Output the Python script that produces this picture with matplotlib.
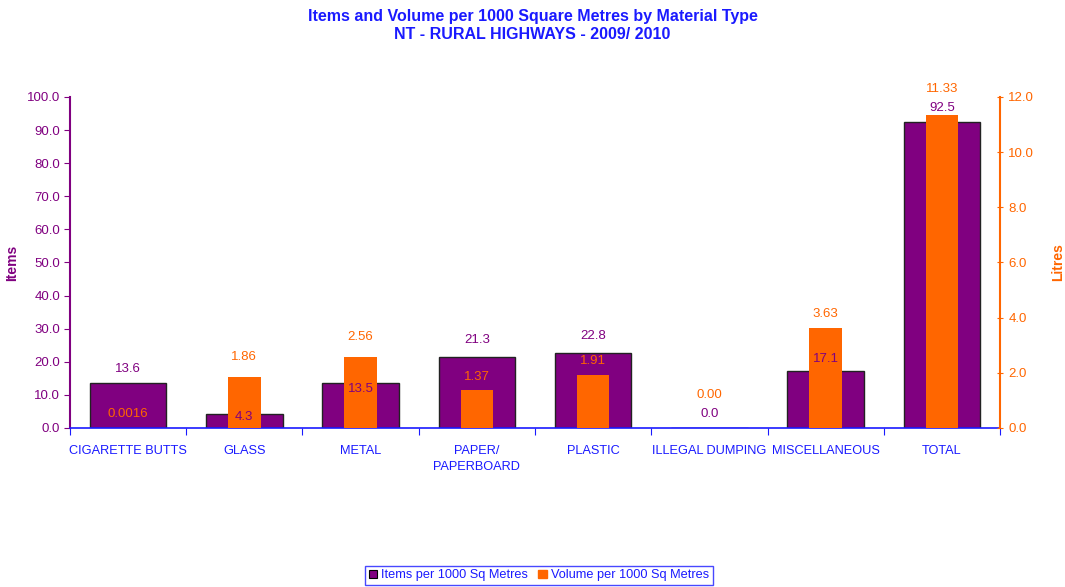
import numpy as np
import matplotlib
matplotlib.use("Agg")
from matplotlib import pyplot as plt
from matplotlib.patches import Patch

plt.rcParams['font.family'] = ['Liberation Sans', 'DejaVu Sans']

categories = ["CIGARETTE BUTTS", "GLASS", "METAL", "PAPER/\nPAPERBOARD", "PLASTIC",
              "ILLEGAL DUMPING", "MISCELLANEOUS", "TOTAL"]
items = [13.6, 4.3, 13.5, 21.3, 22.8, 0.0, 17.1, 92.5]
volume = [0.0016, 1.86, 2.56, 1.37, 1.91, 0.00, 3.63, 11.33]
items_labels = ["13.6", "4.3", "13.5", "21.3", "22.8", "0.0", "17.1", "92.5"]
volume_labels = ["0.0016", "1.86", "2.56", "1.37", "1.91", "0.00", "3.63", "11.33"]

# label offsets in pixels (as placed in the original)
items_off = [14, -3, -6, 17, 17, 14, 12, 14]
volume_off = [14, 20, 20, 13, 14, 33, 14, 26]

PURPLE = "#800080"
ORANGE = "#FF6600"
BLUE = "#1a1aff"

fig = plt.figure(figsize=(10.65, 5.87), dpi=100)
ax = fig.add_axes([0.0657, 0.2709, 0.8733, 0.5639])
ax2 = ax.twinx()

x = np.arange(len(categories))
ax.bar(x, items, width=0.66, color=PURPLE, edgecolor="#222222", linewidth=1.0, zorder=2)
ax2.bar(x, volume, width=0.28, color=ORANGE, linewidth=0, zorder=3)

ax.set_ylim(0, 100)
ax2.set_ylim(0, 12)
ax.set_xlim(-0.5, len(categories) - 0.5)

ax.set_yticks(np.arange(0, 101, 10))
ax.set_yticklabels(["%.1f" % v for v in np.arange(0, 101, 10)])
ax2.set_yticks(np.arange(0, 13, 2))
ax2.set_yticklabels(["%.1f" % v for v in np.arange(0, 13, 2)])

ax.set_xticks(np.arange(-0.5, len(categories), 1.0))
ax.set_xticklabels([])
ax.set_xticks(x, minor=True)
ax.set_xticklabels(categories, minor=True, linespacing=1.5)
ax.tick_params(axis='x', which='minor', length=0, pad=12, colors=BLUE, labelsize=9.2)
ax.tick_params(axis='x', which='major', length=5, color=BLUE, direction='out')
ax.tick_params(axis='y', colors=PURPLE, labelsize=9.5, length=4, direction='out', pad=3)
ax2.tick_params(axis='y', colors=ORANGE, labelsize=9.5, length=4, direction='inout', pad=4)

ax.spines['top'].set_visible(False)
ax2.spines['top'].set_visible(False)
ax2.spines['left'].set_visible(False)
ax2.spines['bottom'].set_visible(False)
ax.spines['right'].set_visible(False)
ax.spines['left'].set_color(PURPLE)
ax.spines['left'].set_linewidth(1.5)
ax2.spines['right'].set_color(ORANGE)
ax2.spines['right'].set_linewidth(1.5)
ax.spines['bottom'].set_color(BLUE)
ax.spines['bottom'].set_linewidth(1.2)

ax.set_ylabel("Items", color=PURPLE, fontweight='bold', fontsize=10, labelpad=6)
ax2.set_ylabel("Litres", color=ORANGE, fontweight='bold', fontsize=10, labelpad=12)

# all value labels on the top axes so they sit over both bar sets
for i in range(len(categories)):
    ax2.annotate(items_labels[i], (x[i], items[i]), xycoords=ax.transData,
                 xytext=(0, items_off[i]), textcoords='offset pixels',
                 ha='center', va='center', color=PURPLE, fontsize=9.5, zorder=5)
    ax2.annotate(volume_labels[i], (x[i], volume[i]), xytext=(0, volume_off[i]),
                 textcoords='offset pixels', ha='center', va='center',
                 color=ORANGE, fontsize=9.5, zorder=5)

fig.text(0.5, 0.985, "Items and Volume per 1000 Square Metres by Material Type\nNT - RURAL HIGHWAYS - 2009/ 2010",
         ha='center', va='top', color=BLUE, fontweight='bold', fontsize=11.5, linespacing=1.3)

handles = [Patch(facecolor=PURPLE, edgecolor='black', linewidth=0.8),
           Patch(facecolor=ORANGE, edgecolor=ORANGE)]
leg = fig.legend(handles, ["Items per 1000 Sq Metres", "Volume per 1000 Sq Metres"],
                 loc='lower center', bbox_to_anchor=(0.506, -0.008), ncol=2, fontsize=9.2,
                 frameon=True, fancybox=False, handlelength=0.7, handleheight=0.7,
                 handletextpad=0.3, columnspacing=0.8, borderpad=0.3)
leg.get_frame().set_edgecolor(BLUE)
leg.get_frame().set_linewidth(1.0)
for t in leg.get_texts():
    t.set_color(BLUE)

fig.savefig("out.png", dpi=100)
